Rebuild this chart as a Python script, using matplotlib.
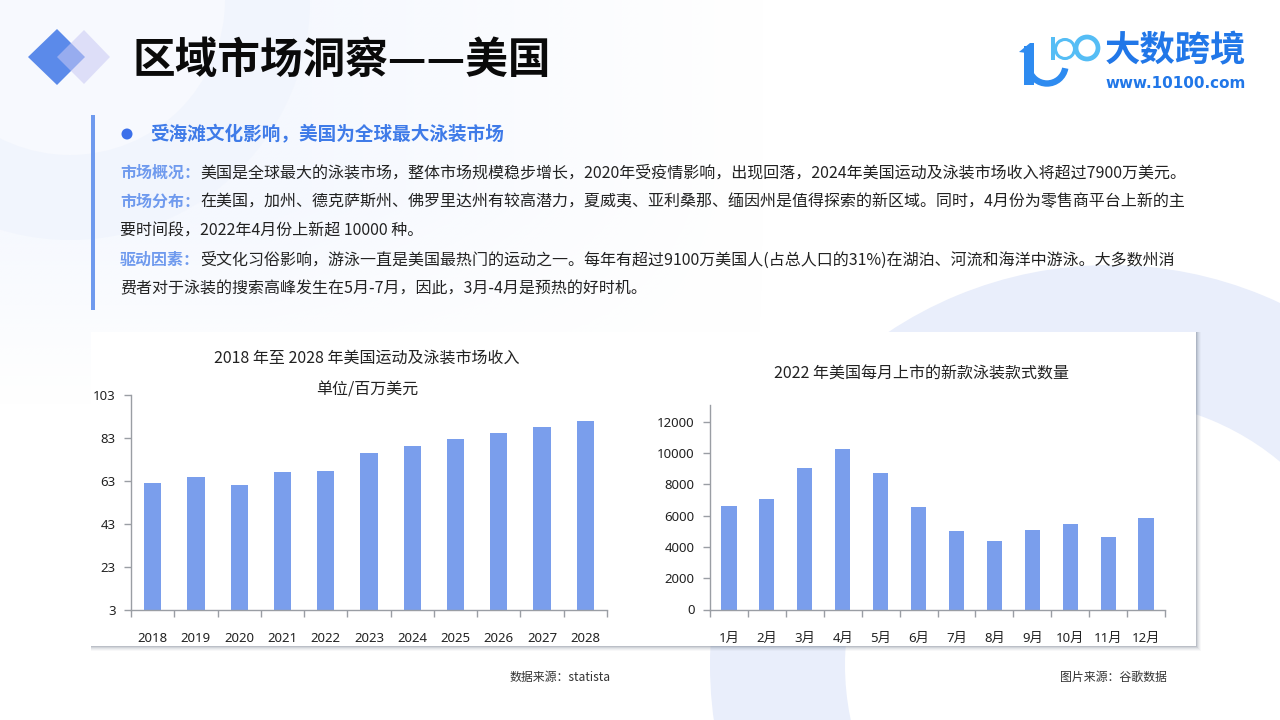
import matplotlib
matplotlib.use("Agg")
import matplotlib.pyplot as plt
import numpy as np
from matplotlib.patches import Circle, Polygon, Rectangle, Arc, Wedge

plt.rcParams['font.family'] = ['Noto Sans CJK SC', 'DejaVu Sans']

FC = '\uff0c'  # fullwidth comma
CL = '\uff1a'  # fullwidth colon

years = ['2018','2019','2020','2021','2022','2023','2024','2025','2026','2027','2028']
revenue = [62.4,64.9,61.5,67.5,67.7,76.2,79.4,82.5,85.4,88.1,91.0]
revenue_ticks = [3,23,43,63,83,103]
months = ['1月','2月','3月','4月','5月','6月','7月','8月','9月','10月','11月','12月']
styles = [6627,7050,9050,10260,8730,6520,5030,4350,5100,5480,4610,5860]
styles_ticks = [0,2000,4000,6000,8000,10000,12000]

W, H = 1280, 720
BAR = '#7A9EEC'
AX = '#9A9EA4'
TXT = '#222222'
LABEL = '#6F9AEE'
TICKFONT = ['Noto Sans', 'Noto Sans CJK SC']

fig = plt.figure(figsize=(12.8, 7.2), dpi=100, facecolor='white')
bg = fig.add_axes([0, 0, 1, 1])
bg.set_xlim(0, W); bg.set_ylim(H, 0); bg.axis('off')

# soft background tint on the left that fades out
yy, xx = np.mgrid[0:72, 0:128]
fade = np.clip((400 - yy*10) / 200, 0, 1) * np.clip((760 - xx*10) / 500, 0, 1)
rgba = np.zeros((72, 128, 4))
rgba[..., 0] = 0xF5/255; rgba[..., 1] = 0xF8/255; rgba[..., 2] = 0xFE/255
rgba[..., 3] = fade
bg.imshow(rgba, extent=(0, W, H, 0), aspect='auto', zorder=0.5, interpolation='bilinear')
bg.set_xlim(0, W); bg.set_ylim(H, 0)

bg.add_patch(Circle((70,0),240,fc='#F1F5FD',ec='none',zorder=1))
bg.add_patch(Circle((70,0),155,fc='#F7F9FE',ec='none',zorder=1.1))
bg.add_patch(Wedge((1110,665),400,0,360,width=135,fc='#E9EEFB',ec='none',zorder=1))

bg.add_patch(Polygon([(57,29),(85,57),(57,85),(28,57)],fc='#5B8AEA',ec='none',zorder=3))
bg.add_patch(Polygon([(84,30),(110,57),(84,84),(57,57)],fc='#C9C9F4',ec='none',alpha=0.55,zorder=4))

bg.text(133,60,'区域市场洞察——美国',fontsize=30.7,fontweight='bold',color='#0A0A0A',va='center',ha='left',zorder=5)

# logo
LB='#2E8BF0'; LC='#55BDF5'
bg.add_patch(Rectangle((1024,46),10,39,fc=LB,ec='none',zorder=5))
bg.add_patch(Polygon([(1019,52),(1030,43),(1034,43),(1034,54)],fc=LB,ec='none',zorder=5))
bg.add_patch(Arc((1047,65),37,37,theta1=10,theta2=170,lw=4.6,ec=LB,zorder=5))
bg.add_patch(Rectangle((1051,37),3.5,23,fc=LC,ec='none',zorder=5))
bg.add_patch(Circle((1065,49),9.5,fc='none',ec=LC,lw=2.2,zorder=5))
bg.add_patch(Circle((1087,48),11,fc='none',ec=LC,lw=3.4,zorder=5))
bg.text(1175,51,'大数跨境',fontsize=25.5,fontweight='bold',color='#2177E8',va='center',ha='center',zorder=5)
bg.text(1175.5,84,'www.10100.com',fontsize=10.9,fontweight='bold',color='#2177E8',va='center',ha='center',zorder=5,family=['DejaVu Sans'])

# text block
bg.add_patch(Rectangle((91,115),3.5,195,fc=LABEL,ec='none',zorder=3))
bg.add_patch(Circle((127,134),5.5,fc='#3C70EA',ec='none',zorder=3))
bg.text(150,135,f'受海滩文化影响{FC}美国为全球最大泳装市场',fontsize=13.4,fontweight='bold',color='#3F7BE8',va='center',ha='left',zorder=5)
rows = [
 (173,f'市场概况{CL}',f'美国是全球最大的泳装市场{FC}整体市场规模稳步增长{FC}2020年受疫情影响{FC}出现回落{FC}2024年美国运动及泳装市场收入将超过7900万美元。'),
 (202,f'市场分布{CL}',f'在美国{FC}加州、德克萨斯州、佛罗里达州有较高潜力{FC}夏威夷、亚利桑那、缅因州是值得探索的新区域。同时{FC}4月份为零售商平台上新的主'),
 (231,'',f'要时间段{FC}2022年4月份上新超 10000 种。'),
 (260,f'驱动因素{CL}',f'受文化习俗影响{FC}游泳一直是美国最热门的运动之一。每年有超过9100万美国人(占总人口的31%)在湖泊、河流和海洋中游泳。大多数州消'),
 (289,'',f'费者对于泳装的搜索高峰发生在5月-7月{FC}因此{FC}3月-4月是预热的好时机。'),
]
for y,lab,body in rows:
    if lab:
        bg.text(120,y,lab,fontsize=11.5,fontweight='bold',color=LABEL,va='center',ha='left',zorder=5)
        bg.text(200,y,body,fontsize=11.5,color=TXT,va='center',ha='left',zorder=5)
    else:
        bg.text(120,y,body,fontsize=11.5,color=TXT,va='center',ha='left',zorder=5)

# card with shadow
for i,a in zip([5,4,3,2,1],[0.04,0.06,0.08,0.12,0.18]):
    bg.add_patch(Rectangle((91,332),1105+i,314+i,fc='#5A6478',ec='none',alpha=a,zorder=2))
bg.add_patch(Rectangle((91,332),1105,314,fc='white',ec='none',zorder=2.5))

bg.text(367,358,'2018 年至 2028 年美国运动及泳装市场收入',fontsize=11.5,color=TXT,va='center',ha='center',zorder=5)
bg.text(367,390,'单位/百万美元',fontsize=11.5,color=TXT,va='center',ha='center',zorder=5)
bg.text(921,374,'2022 年美国每月上市的新款泳装款式数量',fontsize=11.5,color=TXT,va='center',ha='center',zorder=5)
bg.text(510,677,f'数据来源{CL}statista',fontsize=8.6,color='#333333',va='center',ha='left',zorder=5)
bg.text(1167,677,f'图片来源{CL}谷歌数据',fontsize=8.6,color='#333333',va='center',ha='right',zorder=5)

def make_axes(x0,x1,ytop,ybot):
    a = fig.add_axes([x0/W,1-ybot/H,(x1-x0)/W,(ybot-ytop)/H])
    a.patch.set_alpha(0)
    for s in ('top','right'):
        a.spines[s].set_visible(False)
    for s in ('left','bottom'):
        a.spines[s].set_color(AX); a.spines[s].set_linewidth(1.0)
    return a

def draw(a,labels,vals,yt,ymin,ymax,pad):
    n=len(labels)
    a.bar(range(n),vals,width=0.4,color=BAR,edgecolor='none')
    a.set_xlim(-0.5,n-0.5); a.set_ylim(ymin,ymax)
    a.set_xticks([i-0.5 for i in range(n+1)])
    a.set_xticklabels([])
    a.set_xticks(range(n),labels,minor=True)
    a.tick_params(axis='x',which='major',length=5,width=1,color=AX)
    a.tick_params(axis='x',which='minor',length=0,pad=pad,labelsize=9.5,labelcolor=TXT)
    a.set_yticks(yt)
    a.tick_params(axis='y',length=5,width=1,color=AX,labelsize=9.5,labelcolor=TXT,pad=6)
    for t in a.get_xticklabels(minor=True)+a.get_yticklabels():
        t.set_family(TICKFONT)

ax1=make_axes(131,607,395.5,610)
draw(ax1,years,revenue,revenue_ticks,3,103,15.5)
ax2=make_axes(710,1165,404.5,609.5)
draw(ax2,months,styles,styles_ticks,0,13090,16)

fig.savefig('out.png',dpi=100,facecolor='white')
